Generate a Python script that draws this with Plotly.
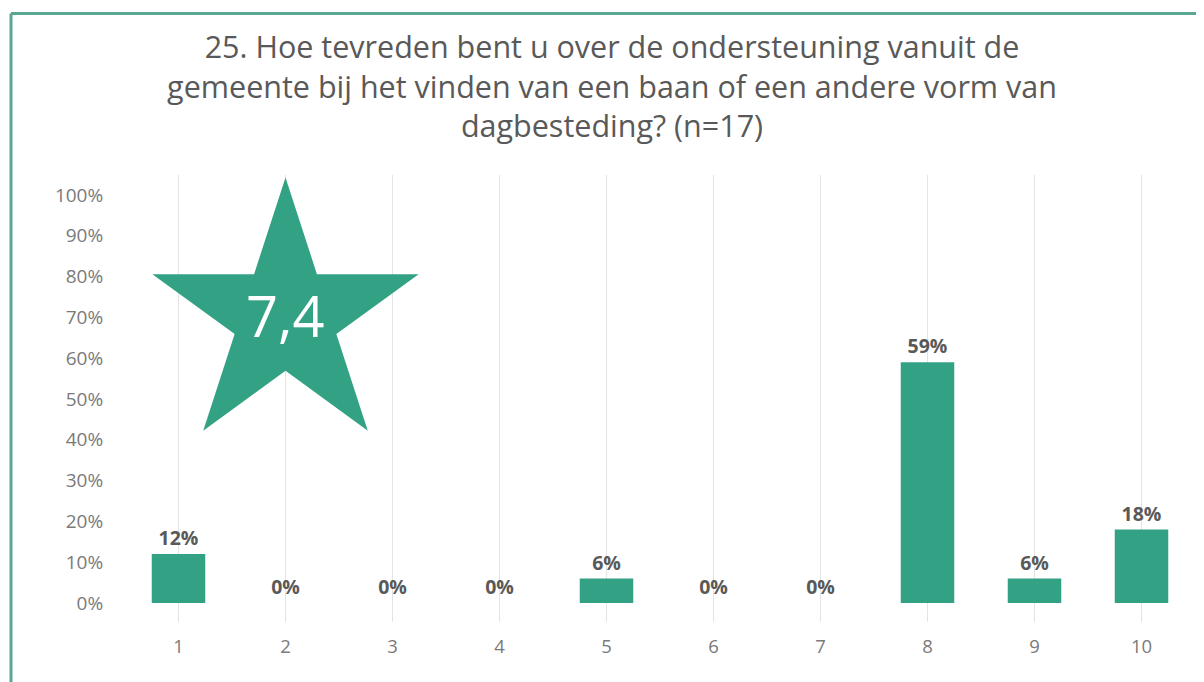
import plotly.graph_objects as go
import math

categories = [1, 2, 3, 4, 5, 6, 7, 8, 9, 10]
values = [0.12, 0.0, 0.0, 0.0, 0.06, 0.0, 0.0, 0.59, 0.06, 0.18]
bar_labels = ["12%", "0%", "0%", "0%", "6%", "0%", "0%", "59%", "6%", "18%"]
y_ticks = [0, 0.1, 0.2, 0.3, 0.4, 0.5, 0.6, 0.7, 0.8, 0.9, 1.0]
y_tick_labels = ["0%", "10%", "20%", "30%", "40%", "50%", "60%", "70%", "80%", "90%", "100%"]
title_lines = ["25. Hoe tevreden bent u over de ondersteuning vanuit de",
               "gemeente bij het vinden van een baan of een andere vorm van",
               "dagbesteding? (n=17)"]
score_text = "7,4"
star_anchor = (2, 0.70)

GREEN = "#33a284"
FONT = "Open Sans"

# page body has an 8px margin; figure is sized to fit the window
OFF = 8
W, H = 1204 - OFF, 682 - OFF
ML, MR, MT, MB = 125 - OFF, 9, 175 - OFF, 60

fig = go.Figure()
fig.add_trace(go.Bar(
    x=categories, y=values, width=0.5,
    marker=dict(color=GREEN, line=dict(width=0)),
    text=bar_labels, textposition="outside", cliponaxis=False,
    textfont=dict(family=FONT, size=19.5, color="#595959", weight="bold"),
))

R, r = 140, 140 * math.cos(math.radians(72)) / math.cos(math.radians(36))
pts = []
for i in range(10):
    ang = math.radians(90 - 36 * i)
    rad = R if i % 2 == 0 else r
    pts.append((rad * math.cos(ang), rad * math.sin(ang)))
path = "M " + " L ".join(f"{px:.2f},{py:.2f}" for px, py in pts) + " Z"
shapes = [dict(type="path", xref="x", yref="y", xsizemode="pixel", ysizemode="pixel",
               xanchor=star_anchor[0], yanchor=star_anchor[1], path=path,
               fillcolor=GREEN, line=dict(width=0), layer="above")]

pw, ph = W - ML - MR, H - MT - MB
def px2paper_x(p):
    return (p - ML) / pw
def py2paper_y(p):
    return (H - MB - p) / ph
border = "#5aa893"
bx, by = 11 - OFF, 13.5 - OFF
shapes.append(dict(type="line", xref="paper", yref="paper",
                   x0=px2paper_x(bx), x1=px2paper_x(W + 10), y0=py2paper_y(by), y1=py2paper_y(by),
                   line=dict(color=border, width=3)))
shapes.append(dict(type="line", xref="paper", yref="paper",
                   x0=px2paper_x(bx), x1=px2paper_x(bx), y0=py2paper_y(by), y1=py2paper_y(H + 10),
                   line=dict(color=border, width=3)))

fig.update_layout(
    width=W, height=H,
    margin=dict(l=ML, r=MR, t=MT, b=MB),
    paper_bgcolor="white", plot_bgcolor="white",
    showlegend=False,
    title=dict(text="<br>".join(title_lines), x=(612 - OFF) / W, xanchor="center", xref="container",
               y=1 - 50 / H, yanchor="top",
               font=dict(family=FONT, size=30.5, color="#595959")),
    shapes=shapes,
    annotations=[dict(text=score_text, x=star_anchor[0], y=star_anchor[1], xref="x", yref="y",
                      showarrow=False, font=dict(family=FONT, size=56, color="white"),
                      xanchor="center", yanchor="middle", yshift=2)],
    xaxis=dict(range=[0.5, 10.5], tickvals=categories, ticktext=[str(c) for c in categories],
               showgrid=True, gridcolor="#e3e3e3", gridwidth=1, zeroline=False, showline=False,
               ticks="outside", ticklen=8, tickcolor="rgba(0,0,0,0)",
               tickfont=dict(family=FONT, size=18.5, color="#7a7a7a")),
    yaxis=dict(range=[-0.0466, 1.049], tickvals=y_ticks, ticktext=y_tick_labels,
               showgrid=False, zeroline=False, showline=False,
               ticks="outside", ticklen=17, tickcolor="rgba(0,0,0,0)",
               tickfont=dict(family=FONT, size=19, color="#7a7a7a")),
)

fig.write_html("out.html")
